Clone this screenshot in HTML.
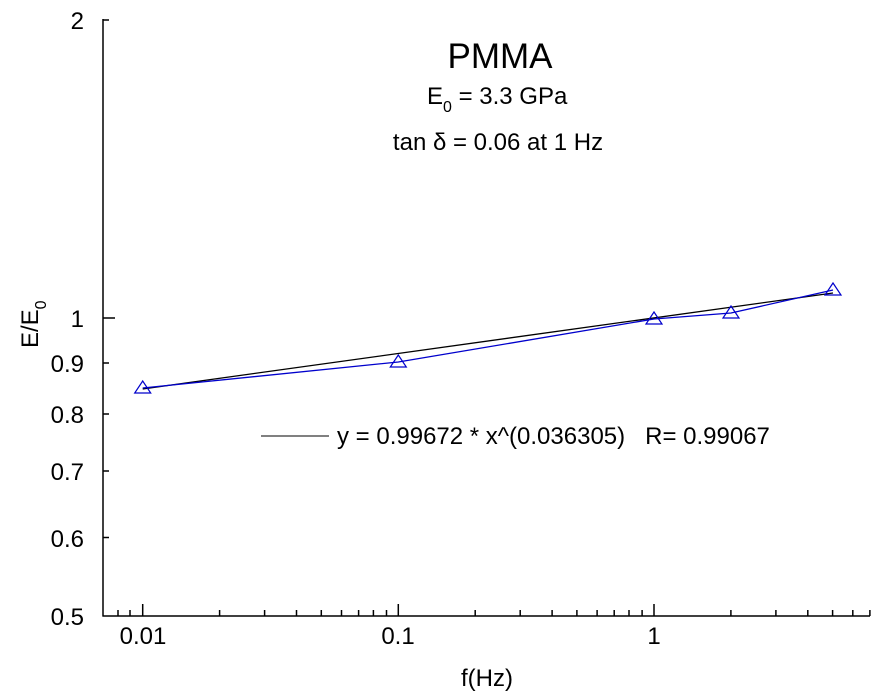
<!DOCTYPE html>
<html><head><style>html,body{margin:0;padding:0;background:#fff}svg{display:block}</style></head><body>
<svg width="878" height="698" xmlns="http://www.w3.org/2000/svg" font-family="Liberation Sans, Arial, sans-serif">
<rect width="878" height="698" fill="#fff"/>
<g stroke="#000" stroke-width="1.5" fill="none">
<line x1="103" y1="19" x2="103" y2="616.5"/>
<line x1="102.5" y1="616" x2="870" y2="616"/>
<line x1="103" y1="20" x2="109" y2="20"/>
<line x1="103" y1="318" x2="115" y2="318"/>
<line x1="103" y1="363" x2="109" y2="363"/>
<line x1="103" y1="414" x2="109" y2="414"/>
<line x1="103" y1="471" x2="109" y2="471"/>
<line x1="103" y1="537.5" x2="109" y2="537.5"/>
<line x1="142.7" y1="616" x2="142.7" y2="604"/>
<line x1="398.3" y1="616" x2="398.3" y2="604"/>
<line x1="654" y1="616" x2="654" y2="604"/>
<line x1="118" y1="616" x2="118" y2="610"/>
<line x1="130" y1="616" x2="130" y2="610"/>
<line x1="219.6" y1="616" x2="219.6" y2="610"/>
<line x1="264.6" y1="616" x2="264.6" y2="610"/>
<line x1="296.5" y1="616" x2="296.5" y2="610"/>
<line x1="321.3" y1="616" x2="321.3" y2="610"/>
<line x1="341.5" y1="616" x2="341.5" y2="610"/>
<line x1="358.6" y1="616" x2="358.6" y2="610"/>
<line x1="373.4" y1="616" x2="373.4" y2="610"/>
<line x1="386.5" y1="616" x2="386.5" y2="610"/>
<line x1="475.2" y1="616" x2="475.2" y2="610"/>
<line x1="520.2" y1="616" x2="520.2" y2="610"/>
<line x1="552.1" y1="616" x2="552.1" y2="610"/>
<line x1="576.9" y1="616" x2="576.9" y2="610"/>
<line x1="597.1" y1="616" x2="597.1" y2="610"/>
<line x1="614.2" y1="616" x2="614.2" y2="610"/>
<line x1="629" y1="616" x2="629" y2="610"/>
<line x1="642.1" y1="616" x2="642.1" y2="610"/>
<line x1="730.9" y1="616" x2="730.9" y2="610"/>
<line x1="775.9" y1="616" x2="775.9" y2="610"/>
<line x1="807.8" y1="616" x2="807.8" y2="610"/>
<line x1="832.6" y1="616" x2="832.6" y2="610"/>
<line x1="852.8" y1="616" x2="852.8" y2="610"/>
<line x1="869.9" y1="616" x2="869.9" y2="610"/>
</g>
<g font-size="24" fill="#000" text-anchor="end">
<text x="84" y="29">2</text>
<text x="84" y="327">1</text>
<text x="84" y="372">0.9</text>
<text x="84" y="423">0.8</text>
<text x="84" y="480">0.7</text>
<text x="84" y="547">0.6</text>
<text x="84" y="625">0.5</text>
</g>
<g font-size="24" fill="#000" text-anchor="middle">
<text x="143" y="644">0.01</text>
<text x="398" y="644">0.1</text>
<text x="654" y="644">1</text>
<text x="487" y="686">f(Hz)</text>
</g>
<text transform="translate(38,348) rotate(-90)" font-size="24" fill="#000">E/E<tspan font-size="16" dy="8">0</tspan></text>
<text x="500" y="68" font-size="35" text-anchor="middle">PMMA</text>
<text x="427" y="104" font-size="24">E<tspan font-size="16" dy="8">0</tspan><tspan dy="-8"> = 3.3 GPa</tspan></text>
<text x="498" y="150" font-size="24" text-anchor="middle">tan δ = 0.06 at 1 Hz</text>
<line x1="261" y1="436" x2="329" y2="436" stroke="#000" stroke-width="1"/>
<text x="337" y="444" font-size="24" xml:space="preserve">y = 0.99672 * x^(0.036305)   R= 0.99067</text>
<line x1="142.7" y1="389" x2="833" y2="293" stroke="#000" stroke-width="1.3"/>
<polyline points="142.7,388 398.3,362 654,319 731,313 833,290" fill="none" stroke="#0000cc" stroke-width="1.3"/>
<g fill="none" stroke="#0000cc" stroke-width="1.2">
<polygon points="142.7,381 134.7,393 150.7,393"/>
<polygon points="398.3,355 390.3,367 406.3,367"/>
<polygon points="654,312 646,324 662,324"/>
<polygon points="731,306 723,318 739,318"/>
<polygon points="833,283 825,295 841,295"/>
</g>
</svg>
</body></html>
